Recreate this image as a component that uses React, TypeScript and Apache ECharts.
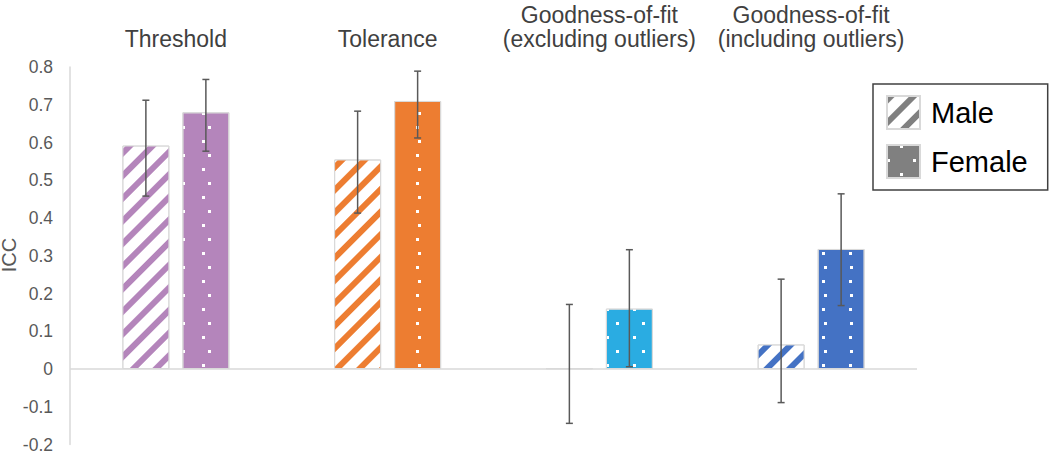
import React, { useEffect, useRef } from "react";
import * as echarts from "echarts";

const categories = [
  "Threshold",
  "Tolerance",
  "Goodness-of-fit\n(excluding outliers)",
  "Goodness-of-fit\n(including outliers)",
];
const categoryColors = ["#B485BB", "#ED7D31", "#2AACE2", "#4472C4"];
const maleValues = [0.592, 0.555, 0.002, 0.065];
const femaleValues = [0.68, 0.71, 0.16, 0.318];
const maleLow = [0.458, 0.413, -0.144, -0.089];
const maleHigh = [0.712, 0.683, 0.171, 0.238];
const femaleLow = [0.577, 0.612, 0.006, 0.168];
const femaleHigh = [0.767, 0.789, 0.316, 0.464];
const seriesNames = ["Male", "Female"];
const yAxisTitle = "ICC";

const FONT = "'Liberation Sans', Arial, sans-serif";
const BAR_WIDTH = 47;
const BAR_GAP_PX = 13;

const stripeDecal = (color: string) => ({
  symbol: "rect",
  symbolSize: 1,
  color,
  dashArrayX: [1, 0],
  dashArrayY: [6, 10],
  rotation: -Math.PI / 4,
});

const dotDecal = {
  symbol: "rect",
  symbolSize: 1,
  color: "#ffffff",
  dashArrayX: [
    [2.5, 23],
    [0, 12.75, 2.5, 10.25],
  ],
  dashArrayY: [2.5, 10.25],
  rotation: 0,
};

export default function App() {
  const ref = useRef<HTMLDivElement>(null);

  useEffect(() => {
    if (!ref.current) return;
    const chart = echarts.init(ref.current, undefined, { renderer: "svg" });

    const errData: number[][] = [];
    categories.forEach((_, i) => {
      errData.push([i, maleLow[i], maleHigh[i], -1]);
      errData.push([i, femaleLow[i], femaleHigh[i], 1]);
    });
    const offset = (BAR_WIDTH + BAR_GAP_PX) / 2;

    const option: any = {
      animation: false,
      backgroundColor: "#ffffff",
      textStyle: { fontFamily: FONT },
      grid: {
        left: 70,
        right: 133,
        top: 67,
        bottom: 6.5,
        containLabel: false,
        outerBoundsMode: "none",
      },
      graphic: [
        {
          type: "text",
          x: 9,
          y: 255,
          rotation: Math.PI / 2,
          style: {
            text: yAxisTitle,
            fill: "#595959",
            font: "20px 'Liberation Sans', Arial, sans-serif",
            align: "center",
            verticalAlign: "middle",
          },
        },
      ],
      legend: {
        data: seriesNames,
        orient: "vertical",
        left: 873,
        top: 84,
        padding: [11, 20, 11, 13],
        itemWidth: 33,
        itemHeight: 33,
        itemGap: 14,
        borderColor: "#404040",
        borderWidth: 1.5,
        icon: "rect",
        textStyle: { fontSize: 29, color: "#000000", fontFamily: FONT, padding: [0, 0, 0, 6] },
      },
      xAxis: {
        type: "category",
        position: "top",
        data: categories,
        axisLine: { show: false, onZero: false },
        axisTick: { show: false },
        axisLabel: {
          color: "#404040",
          fontSize: 23,
          lineHeight: 24,
          margin: 16,
          fontFamily: FONT,
          interval: 0,
        },
        splitLine: { show: false },
      },
      yAxis: {
        type: "value",
        min: -0.2,
        max: 0.8,
        interval: 0.1,
        axisLine: { show: true, lineStyle: { color: "#D9D9D9", width: 1.5 } },
        axisTick: { show: false },
        splitLine: { show: false },
        axisLabel: {
          color: "#595959",
          fontSize: 17.5,
          margin: 17,
          fontFamily: FONT,
          formatter: (v: number) => (Math.abs(v) < 1e-9 ? "0" : v.toFixed(1)),
        },
      },
      series: [
        {
          name: "Male",
          type: "bar",
          barWidth: BAR_WIDTH,
          barGap: (BAR_GAP_PX / BAR_WIDTH) * 100 + "%",
          itemStyle: {
            color: "#ffffff",
            borderColor: "#D9D9D9",
            borderWidth: 1,
            decal: stripeDecal("#808080"),
          },
          data: maleValues.map((v, i) => ({
            value: v,
            itemStyle: {
              color: "#ffffff",
              borderColor: "#D9D9D9",
              borderWidth: 1,
              decal: stripeDecal(categoryColors[i]),
            },
          })),
          markLine: {
            silent: true,
            symbol: ["none", "none"],
            label: { show: false },
            lineStyle: { color: "#D9D9D9", width: 1.5, type: "solid" },
            data: [{ yAxis: 0 }],
          },
        },
        {
          name: "Female",
          type: "bar",
          barWidth: BAR_WIDTH,
          itemStyle: {
            color: "#808080",
            borderColor: "#D9D9D9",
            borderWidth: 1,
            decal: dotDecal,
          },
          data: femaleValues.map((v, i) => ({
            value: v,
            itemStyle: {
              color: categoryColors[i],
              borderColor: "#D9D9D9",
              borderWidth: 1,
              decal: dotDecal,
            },
          })),
        },
        {
          name: "errors",
          type: "custom",
          z: 10,
          data: errData,
          renderItem: (params: any, api: any) => {
            const cat = api.value(0);
            const lo = api.coord([cat, api.value(1)]);
            const hi = api.coord([cat, api.value(2)]);
            const x = lo[0] + api.value(3) * offset;
            const cap = 3.5;
            const style = { stroke: "#595959", lineWidth: 1.5, fill: "none" };
            return {
              type: "group",
              children: [
                { type: "line", shape: { x1: x, y1: lo[1], x2: x, y2: hi[1] }, style },
                { type: "line", shape: { x1: x - cap, y1: lo[1], x2: x + cap, y2: lo[1] }, style },
                { type: "line", shape: { x1: x - cap, y1: hi[1], x2: x + cap, y2: hi[1] }, style },
              ],
            };
          },
        },
      ],
    };

    chart.setOption(option);
    return () => chart.dispose();
  }, []);

  return (
    <div
      ref={ref}
      style={{ position: "fixed", left: 0, top: 0, width: 1050, height: 451 }}
    />
  );
}
